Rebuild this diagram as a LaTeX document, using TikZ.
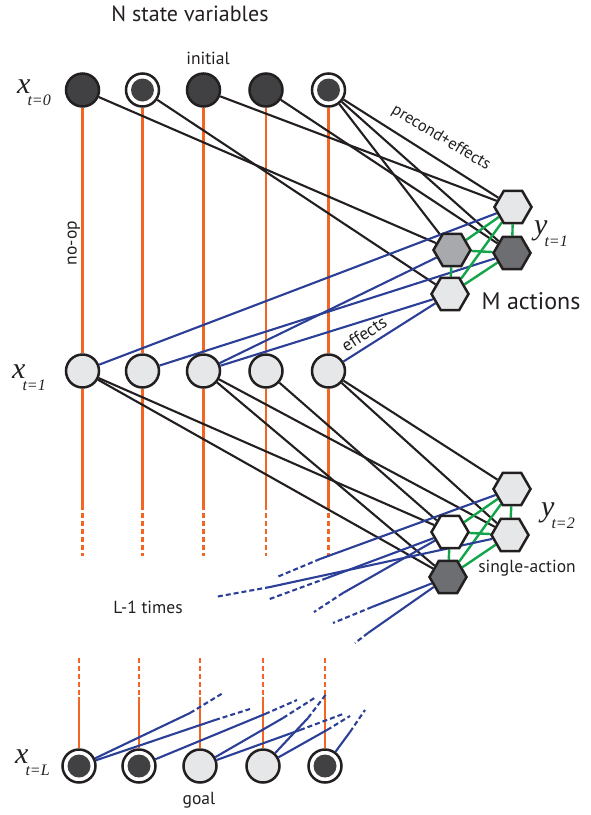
\documentclass[tikz,border=0pt]{standalone}
\usepackage{fontspec}
\setmainfont{PT Sans}
\newfontfamily\varfont{Liberation Serif}
\usetikzlibrary{shapes.geometric,backgrounds}
\definecolor{edgeblack}{HTML}{231F20}
\definecolor{noopcol}{HTML}{F26522}
\definecolor{effblue}{HTML}{2B3F97}
\definecolor{mutexcol}{HTML}{13A54A}
\definecolor{darkfill}{HTML}{414042}
\definecolor{lightfill}{HTML}{E6E7E8}
\definecolor{midfill}{HTML}{A7A9AC}
\definecolor{darkhex}{HTML}{6D6E71}
\newcommand{\varlabel}[2]{{\varfont\itshape\fontsize{30}{30}\selectfont #1}\kern-3pt\raisebox{-12pt}{\varfont\itshape\fontsize{16}{16}\selectfont #2}}
\begin{document}
\begin{tikzpicture}[x=1pt,y=-1pt,
  var/.style={circle,draw=edgeblack,line width=2.5pt,minimum size=33pt,inner sep=0pt},
  darkvar/.style={var,fill=darkfill},
  lightvar/.style={var,fill=lightfill},
  ringvar/.style={var,fill=white,path picture={\fill[darkfill] (path picture bounding box.center) circle (11.5pt);}},
  act/.style={regular polygon,regular polygon sides=6,draw=edgeblack,line width=2.5pt,minimum size=37pt,inner sep=0pt},
  pre/.style={edgeblack,line width=2.1pt},
  eff/.style={effblue,line width=2.1pt},
  effdash/.style={eff,dash pattern=on 5pt off 3pt},
  mux/.style={mutexcol,line width=2.4pt},
  noopl/.style={noopcol,line width=2.2pt},
  noopdash/.style={noopl,dash pattern=on 5pt off 3pt},
  lbl/.style={text=edgeblack,inner sep=0pt,font=\fontsize{17.5}{17.5}\selectfont},
  vlbl/.style={text=edgeblack,inner sep=0pt,anchor=base west}
]
\useasboundingbox (0,0) rectangle (591,815);

% state variables t=0
\node[darkvar] (a1) at (82.5,90) {};
\node[ringvar] (a2) at (142.5,90) {};
\node[darkvar] (a3) at (203.5,90) {};
\node[darkvar] (a4) at (266,90) {};
\node[ringvar] (a5) at (328.5,90) {};
% t=1
\node[lightvar] (b1) at (82.5,371) {};
\node[lightvar] (b2) at (142.5,371) {};
\node[lightvar] (b3) at (203.5,371) {};
\node[lightvar] (b4) at (266,371) {};
\node[lightvar] (b5) at (328.5,371) {};
% t=L
\node[ringvar] (c1) at (79,766) {};
\node[ringvar] (c2) at (139,766) {};
\node[lightvar] (c3) at (200,766) {};
\node[lightvar] (c4) at (263,766) {};
\node[ringvar] (c5) at (325,766) {};

% actions t=1
\node[act,fill=lightfill] (p1t) at (513,207) {};
\node[act,fill=midfill] (p1l) at (452,250) {};
\node[act,fill=darkhex] (p1r) at (512,253) {};
\node[act,fill=lightfill] (p1b) at (450,294) {};
% actions t=2
\node[act,fill=lightfill] (p2t) at (512,489) {};
\node[act,fill=white] (p2l) at (450,532) {};
\node[act,fill=lightfill] (p2r) at (510,535) {};
\node[act,fill=darkhex] (p2b) at (448,577) {};

% free ends
\foreach \i/\x in {1/82.5,2/142.5,3/203.5,4/266,5/328.5}{
  \coordinate (os\i) at (\x,505);
  \coordinate (oe\i) at (\x,556);
}
\foreach \i/\x in {1/79,2/139,3/200,4/263,5/325}{
  \coordinate (ot\i) at (\x,658);
  \coordinate (ou\i) at (\x,697);
}
\coordinate (d1s) at (320,559); \coordinate (d1d) at (277,577);
\coordinate (d2s) at (270,587); \coordinate (d2d) at (215,597);
\coordinate (d3s) at (327,578); \coordinate (d3d) at (267,600);
\coordinate (d4s) at (343,593); \coordinate (d4d) at (314,612);
\coordinate (d5s) at (372,607); \coordinate (d5d) at (333,623);
\coordinate (d6s) at (368,633); \coordinate (d6d) at (355,643);

\coordinate (e1s) at (190,713); \coordinate (e1d) at (223,693);
\coordinate (e2s) at (215,720); \coordinate (e2d) at (250,709);
\coordinate (e3s) at (265,714); \coordinate (e3d) at (297,700);
\coordinate (e4s) at (283,718); \coordinate (e4d) at (316,697);
\coordinate (e5s) at (300,730); \coordinate (e5d) at (343,714);
\coordinate (e6s) at (308,718); \coordinate (e6d) at (327,693);
\coordinate (e7s) at (327,730); \coordinate (e7d) at (350,716);
\coordinate (e8s) at (350,732); \coordinate (e8d) at (365,710);

\begin{scope}[on background layer]
  % no-op lines
  \foreach \i in {1,...,5}{
    \draw[noopl] (a\i) -- (b\i);
    \draw[noopl] (b\i) -- (os\i);
    \draw[noopdash] (os\i) -- (oe\i);
    \draw[noopdash] (ot\i) -- (ou\i);
    \draw[noopl] (ou\i) -- (c\i);
  }
  % preconditions t=0
  \draw[pre] (a1) -- (p1l);
  \draw[pre] (a2) -- (p1b);
  \draw[pre] (a3) -- (p1t);
  \draw[pre] (a4) -- (p1r);
  \draw[pre] (a5) -- (p1t);
  \draw[pre] (a5) -- (p1r);
  \draw[pre] (a5) -- (p1l);
  % effects t=1
  \draw[eff] (p1t) -- (b1);
  \draw[eff] (p1r) -- (b2);
  \draw[eff] (p1l) -- (b3);
  \draw[eff] (p1b) -- (b3);
  \draw[eff] (p1b) -- (b5);
  % mutex t=1
  \draw[mux] (p1t) -- (p1l);
  \draw[mux] (p1t) -- (p1r);
  \draw[mux] (p1t) -- (p1b);
  \draw[mux] (p1l) -- (p1r);
  \draw[mux] (p1l) -- (p1b);
  \draw[mux] (p1r) -- (p1b);
  % preconditions t=1
  \draw[pre] (b1) -- (p2l);
  \draw[pre] (b1) -- (p2b);
  \draw[pre] (b3) -- (p2r);
  \draw[pre] (b3) -- (p2b);
  \draw[pre] (b4) -- (p2l);
  \draw[pre] (b5) -- (p2t);
  \draw[pre] (b5) -- (p2r);
  % mutex t=2
  \draw[mux] (p2t) -- (p2l);
  \draw[mux] (p2t) -- (p2r);
  \draw[mux] (p2t) -- (p2b);
  \draw[mux] (p2l) -- (p2r);
  \draw[mux] (p2l) -- (p2b);
  \draw[mux] (p2r) -- (p2b);
  % effects t=2 (continued)
  \draw[eff] (p2t) -- (d1s); \draw[effdash] (d1s) -- (d1d);
  \draw[eff] (p2r) -- (d2s); \draw[effdash] (d2s) -- (d2d);
  \draw[eff] (p2l) -- (d3s); \draw[effdash] (d3s) -- (d3d);
  \draw[eff] (p2l) -- (d4s); \draw[effdash] (d4s) -- (d4d);
  \draw[eff] (p2b) -- (d5s); \draw[effdash] (d5s) -- (d5d);
  \draw[eff] (p2b) -- (d6s); \draw[effdash] (d6s) -- (d6d);
  % effects into t=L
  \draw[eff] (c1) -- (e1s); \draw[effdash] (e1s) -- (e1d);
  \draw[eff] (c1) -- (e2s); \draw[effdash] (e2s) -- (e2d);
  \draw[eff] (c2) -- (e3s); \draw[effdash] (e3s) -- (e3d);
  \draw[eff] (c3) -- (e4s); \draw[effdash] (e4s) -- (e4d);
  \draw[eff] (c3) -- (e5s); \draw[effdash] (e5s) -- (e5d);
  \draw[eff] (c4) -- (e6s); \draw[effdash] (e6s) -- (e6d);
  \draw[eff] (c4) -- (e7s); \draw[effdash] (e7s) -- (e7d);
  \draw[eff] (c5) -- (e8s); \draw[effdash] (e8s) -- (e8d);
\end{scope}

% labels
\node[lbl,font=\fontsize{22}{22}\selectfont] (title) at (190,14) {N state variables};
\node[lbl] (initial) at (208,58) {initial};
\node[lbl,rotate=90] (noop) at (74,243) {no-op};
\node[lbl,font=\fontsize{16.5}{16.5}\selectfont,rotate=-31] (precond) at (441,138) {precond+effects};
\node[lbl,font=\fontsize{24}{24}\selectfont] (macts) at (531,301) {M actions};
\node[lbl,rotate=33] (effl) at (364,334) {effects};
\node[lbl] (single) at (527,568) {single-action};
\node[lbl] (ltimes) at (148,607) {L-1 times};
\node[lbl] (goal) at (199,800) {goal};
\node[vlbl] (x0) at (17,93) {\varlabel{x}{t=0}};
\node[vlbl] (x1) at (12,378) {\varlabel{x}{t=1}};
\node[vlbl] (xL) at (15,763) {\varlabel{x}{t=L}};
\node[vlbl] (y1) at (534,234) {\varlabel{y}{t=1}};
\node[vlbl] (y2) at (541,516) {\varlabel{y}{t=2}};
\end{tikzpicture}
\end{document}
